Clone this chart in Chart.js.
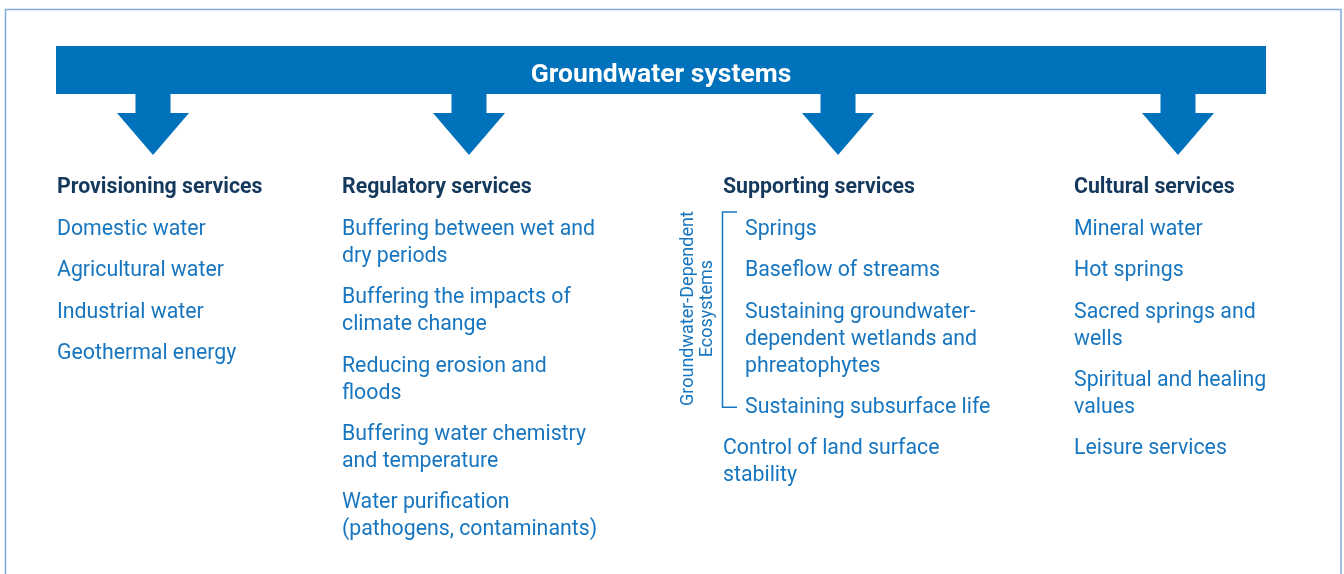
<!DOCTYPE html>
<html>
<head>
<meta charset="utf-8">
<title>Groundwater systems</title>
<script src="https://cdn.jsdelivr.net/npm/chart.js@4.4.1/dist/chart.umd.min.js"></script>
<style>
  html, body { margin: 0; padding: 0; background: #fff; }
  #wrap { width: 1344px; height: 574px; position: relative; }
</style>
</head>
<body>
<div id="wrap"><canvas id="diagram"></canvas></div>
<script>
// ===== Data =====
const title = 'Groundwater systems';
const categories = ['Provisioning services', 'Regulatory services', 'Supporting services', 'Cultural services'];

// each item is a list of its wrapped lines
const provisioning = [
  ['Domestic water'],
  ['Agricultural water'],
  ['Industrial water'],
  ['Geothermal energy']
];
const regulatory = [
  ['Buffering between wet and', 'dry periods'],
  ['Buffering the impacts of', 'climate change'],
  ['Reducing erosion and', 'floods'],
  ['Buffering water chemistry', 'and temperature'],
  ['Water purification', '(pathogens, contaminants)']
];
const supporting = [
  ['Springs'],
  ['Baseflow of streams'],
  ['Sustaining groundwater-', 'dependent wetlands and', 'phreatophytes'],
  ['Sustaining subsurface life'],
  ['Control of land surface', 'stability']
];
const cultural = [
  ['Mineral water'],
  ['Hot springs'],
  ['Sacred springs and', 'wells'],
  ['Spiritual and healing', 'values'],
  ['Leisure services']
];
const groupLabel = ['Groundwater-Dependent', 'Ecosystems'];
const groupSize = 4; // first four supporting items belong to the bracket

const columns = [provisioning, regulatory, supporting, cultural];

// ===== Layout =====
const W = 1344, H = 574;
const colX = [57, 342, 723, 1074];
const arrowX = [153, 469, 838, 1178];
const indent = 22;
const headerY = 188;
const firstItemY = 229.5;
const lineH = 27;
const itemGap = 14.4;

const BLUE = '#0071bb';
const NAVY = '#15395d';
const ITEM = '#1776bf';
const FONT = 'Roboto, "Open Sans", sans-serif';

// build label points (one per text line) that go through the chart scales
const linePoints = [];
columns.forEach((items, c) => {
  let y = firstItemY;
  items.forEach((lines, i) => {
    const x = colX[c] + (c === 2 && i < groupSize ? indent : 0);
    lines.forEach((text, k) => {
      linePoints.push({ x: x, y: y + k * lineH, text: text, col: c, item: i });
    });
    y += lines.length * lineH + itemGap;
  });
});

const headerPoints = categories.map((name, c) => ({ x: colX[c], y: headerY, text: name }));

// ===== Drawing plugin =====
const diagramPlugin = {
  id: 'diagram',
  afterDatasetsDraw(chart) {
    const ctx = chart.ctx;
    const sx = chart.scales.x, sy = chart.scales.y;
    const px = v => sx.getPixelForValue(v);
    const py = v => sy.getPixelForValue(v);
    ctx.save();

    // outer frame
    ctx.strokeStyle = '#7fabd9';
    ctx.lineWidth = 1.5;
    ctx.strokeRect(px(5.5), py(9.5), px(1341) - px(5.5), py(620) - py(9.5));

    // banner
    ctx.fillStyle = BLUE;
    ctx.fillRect(px(56), py(46), px(1266) - px(56), py(94) - py(46));

    // arrows
    arrowX.forEach(ax => {
      ctx.beginPath();
      ctx.moveTo(px(ax - 17.5), py(93));
      ctx.lineTo(px(ax + 17.5), py(93));
      ctx.lineTo(px(ax + 17.5), py(113));
      ctx.lineTo(px(ax + 36), py(113));
      ctx.lineTo(px(ax), py(155));
      ctx.lineTo(px(ax - 36), py(113));
      ctx.lineTo(px(ax - 17.5), py(113));
      ctx.closePath();
      ctx.fill();
    });

    // banner title
    ctx.fillStyle = '#fff';
    ctx.font = 'bold 26.5px ' + FONT;
    ctx.textAlign = 'center';
    ctx.textBaseline = 'middle';
    ctx.fillText(title, px(661), py(75));

    // headers
    ctx.textAlign = 'left';
    ctx.fillStyle = NAVY;
    ctx.font = 'bold 21.3px ' + FONT;
    headerPoints.forEach(p => ctx.fillText(p.text, px(p.x), py(p.y)));

    // items
    ctx.fillStyle = ITEM;
    ctx.font = '21.3px ' + FONT;
    linePoints.forEach(p => ctx.fillText(p.text, px(p.x), py(p.y)));

    // bracket for groundwater-dependent ecosystems
    const grp = linePoints.filter(p => p.col === 2 && p.item < groupSize);
    const top = grp[0].y - 17.5, bottom = grp[grp.length - 1].y - 0.5;
    ctx.strokeStyle = ITEM;
    ctx.lineWidth = 1.5;
    ctx.beginPath();
    ctx.moveTo(px(737), py(top));
    ctx.lineTo(px(722.5), py(top));
    ctx.lineTo(px(722.5), py(bottom));
    ctx.lineTo(px(737), py(bottom));
    ctx.stroke();

    // rotated group label
    ctx.save();
    ctx.translate(px(697.5), py((top + bottom) / 2 - 1));
    ctx.rotate(-Math.PI / 2);
    ctx.textAlign = 'center';
    ctx.font = '18px ' + FONT;
    ctx.fillStyle = ITEM;
    groupLabel.forEach((t, i) => ctx.fillText(t, 0, (i - 0.5) * 19));
    ctx.restore();

    ctx.restore();
  }
};

// ===== Chart =====
new Chart(document.getElementById('diagram'), {
  type: 'scatter',
  data: {
    datasets: [{
      data: linePoints.concat(headerPoints).map(p => ({ x: p.x, y: p.y })),
      pointRadius: 0,
      pointHoverRadius: 0
    }]
  },
  options: {
    responsive: true,
    maintainAspectRatio: false,
    animation: false,
    layout: { padding: 0 },
    plugins: { legend: { display: false }, tooltip: { enabled: false } },
    events: [],
    scales: {
      x: { type: 'linear', min: 0, max: W, display: false },
      y: { type: 'linear', min: 0, max: H, reverse: true, display: false }
    }
  },
  plugins: [diagramPlugin]
});
</script>
</body>
</html>
